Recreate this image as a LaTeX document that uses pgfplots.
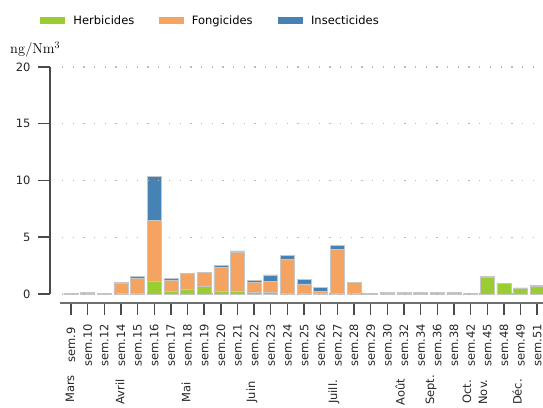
\documentclass[border=0pt]{standalone}
\usepackage{pgfplots}
\usepackage{pgfplotstable}
\pgfplotsset{compat=1.18}
\usepackage[no-math]{fontspec}
\setmainfont{DejaVu Sans}
\definecolor{herb}{HTML}{9ACD32}
\definecolor{fong}{HTML}{F4A460}
\definecolor{insect}{HTML}{4682B4}
\definecolor{spine}{HTML}{4A4A4A}
\newcommand\lf{\fontsize{11.5}{13}\selectfont}

\pgfplotstableread{
x herb fong insect
0 0.02 0.01 0.03
1 0.02 0.02 0.08
2 0.02 0.01 0.03
3 0.03 0.88 0.11
4 0.03 1.38 0.11
5 1.14 5.32 3.89
6 0.26 0.98 0.11
7 0.41 1.40 0.03
8 0.70 1.21 0.02
9 0.26 2.05 0.20
10 0.26 3.42 0.12
11 0.17 0.86 0.17
12 0.12 0.99 0.56
13 0.05 2.99 0.38
14 0.05 0.83 0.41
15 0.03 0.17 0.38
16 0.05 3.90 0.35
17 0.02 0.98 0.05
18 0.01 0.01 0.05
19 0.05 0.03 0.05
20 0.03 0.10 0.03
21 0.01 0.02 0.08
22 0.01 0.02 0.08
23 0.01 0.02 0.08
24 0.01 0.01 0.04
25 1.46 0.03 0.03
26 0.90 0.03 0.03
27 0.47 0.03 0.03
28 0.67 0.03 0.03
}\data

\begin{document}
\begin{tikzpicture}[x=1pt,y=1pt]
\path[use as bounding box] (0,0) rectangle (543,407);
\begin{axis}[
  at={(50pt,104pt)}, anchor=south west,
  scale only axis, width=495pt, height=236pt,
  xmin=-1.26, xmax=28.47, ymin=-0.8, ymax=20,
  ybar stacked, bar width=14pt,
  axis x line*=bottom, axis y line*=left,
  axis line style={draw=none},
  tick align=outside, major tick length=12pt,
  tick style={spine, line width=1.4pt},
  ytick={0,5,10,15,20},
  xtick={0,...,28},
  xticklabels={sem.9,sem.10,sem.12,sem.14,sem.15,sem.16,sem.17,sem.18,sem.19,sem.20,sem.21,sem.22,sem.23,sem.24,sem.25,sem.26,sem.27,sem.28,sem.29,sem.30,sem.32,sem.34,sem.36,sem.38,sem.42,sem.45,sem.48,sem.49,sem.51},
  xticklabel style={rotate=90, anchor=center, font=\lf, text=black!85},
  xticklabel shift=30pt,
  yticklabel style={font=\lf, text=black!85, xshift=-4pt},
  /pgf/number format/assume math mode=true,
  legend style={at={(-0.0202,1.197)}, anchor=west, draw=none, fill=none,
    font=\lf, legend columns=3, inner sep=0pt, column sep=0pt,
    nodes={inner xsep=0pt}},
  legend cell align=left,
  legend image code/.code={\fill[#1, draw=none] (0pt,-3.5pt) rectangle (25pt,3.5pt); \path (33pt,0pt);},
  every axis plot/.append style={draw=gray!45, line width=0.6pt},
  clip=false,
]
\pgfplotsinvokeforeach{0,5,10,15,20}{
  \draw[gray!55, line width=1.3pt, dash pattern=on 1.3pt off 9.4pt] (axis cs:-0.55,#1) -- (axis cs:28.2,#1);
}
\addplot[fill=herb] table[x=x, y=herb] {\data};
\addlegendentry{\makebox[85pt][l]{Herbicides}}
\addplot[fill=fong] table[x=x, y=fong] {\data};
\addlegendentry{\makebox[86pt][l]{Fongicides}}
\addplot[fill=insect] table[x=x, y=insect] {\data};
\addlegendentry{Insecticides}
\draw[spine, line width=1.8pt] (axis cs:-1.26,0) -- (axis cs:-1.26,20);
\draw[spine!80, line width=1.8pt] (axis cs:-0.66,-0.8) -- (axis cs:28.47,-0.8);
\end{axis}
\node[anchor=base west, inner sep=0pt, font=\fontsize{14}{16}\selectfont] at (10,353) {$\mathrm{ng/Nm^3}$};
\begin{scope}[every node/.style={rotate=90, anchor=center, font=\lf, text=black!85, inner sep=0pt}]
\node at (70,18) {Mars};
\node at (120,15) {Avril};
\node at (186,15) {Mai};
\node at (252,15) {Juin};
\node at (334,15) {Juill.};
\node at (400,15) {Août};
\node at (431,17) {Sept.};
\node at (467,15) {Oct.};
\node at (483,15) {Nov.};
\node at (517,15) {Déc.};
\end{scope}
\end{tikzpicture}
\end{document}
